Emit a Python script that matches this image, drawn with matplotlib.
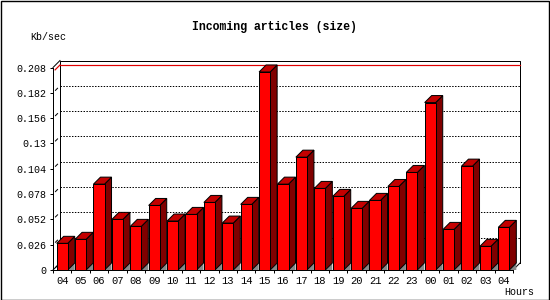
import numpy as np
import matplotlib
matplotlib.use("Agg")
import matplotlib.pyplot as plt
from matplotlib.patches import Polygon, Rectangle

hours = ["04", "05", "06", "07", "08", "09", "10", "11", "12", "13", "14", "15",
         "16", "17", "18", "19", "20", "21", "22", "23", "00", "01", "02", "03", "04"]
kbsec = [0.0274, 0.0315, 0.0882, 0.0520, 0.0448, 0.0663, 0.0503, 0.0571, 0.0694,
         0.0482, 0.0674, 0.2034, 0.0882, 0.1159, 0.0838, 0.0756, 0.0633, 0.0715,
         0.0858, 0.1002, 0.1720, 0.0417, 0.1067, 0.0243, 0.0438]
yticks = [0, 0.026, 0.052, 0.078, 0.104, 0.13, 0.156, 0.182, 0.208]
ytick_labels = ["0", "0.026", "0.052", "0.078", "0.104", "0.13", "0.156", "0.182", "0.208"]

FONT = "Liberation Mono"
LW = 0.72  # one pixel at 100 dpi

fig = plt.figure(figsize=(5.5, 3), dpi=100)
fig.patch.set_facecolor("white")
ax = fig.add_axes([53 / 550, 30 / 300, 460 / 550, 202.5 / 300])
ax.set_facecolor("none")

n = len(kbsec)
x = np.arange(n)
ymax = yticks[-1]
ax.set_xlim(-0.5, n - 0.5)
ax.set_ylim(0, ymax)

# depth of the fake 3d, 7 px right and 7 px up, in data units
depth = 7
dx = depth / (ax.bbox.width / n)
dy = depth / (ax.bbox.height / ymax)
x0, x1 = -0.5, n - 0.5

# back wall frame
ax.plot([x0 + dx, x0 + dx, x1 + dx, x1 + dx], [dy, ymax + dy, ymax + dy, dy],
        color="black", lw=LW, clip_on=False, zorder=1)
ax.plot([x0, x0 + dx], [ymax, ymax + dy], color="black", lw=LW, clip_on=False, zorder=1)
ax.plot([x1, x1 + dx], [0, dy], color="black", lw=LW, clip_on=False, zorder=1)
ax.plot([x0, x0 + dx], [0, dy], color="black", lw=LW, clip_on=False, zorder=1)

# dotted grid on back wall and little depth ticks
for v in yticks[1:-1]:
    ax.plot([x0 + dx, x1 + dx], [v + dy, v + dy], color="black", lw=LW,
            dashes=(1.44, 1.44), clip_on=False, zorder=1)
for v in yticks[:-1]:
    ax.plot([x0 + 0.35 * dx, x0 + 0.65 * dx], [v + 0.35 * dy, v + 0.65 * dy],
            color="black", lw=LW, clip_on=False, zorder=1)

# red max line
vmax = max(kbsec)
ax.plot([x0 + dx, x1 + dx], [vmax + dy, vmax + dy], color="#e00000", lw=LW * 1.2,
        clip_on=False, zorder=1)
ax.plot([x0 + 0.3 * dx, x0 + dx], [vmax + 0.3 * dy, vmax + dy], color="#e00000",
        lw=LW * 1.2, clip_on=False, zorder=1)

# bars
w = 0.6
for i, v in enumerate(kbsec):
    xl = x[i] - w / 2
    xr = x[i] + w / 2
    zo = 3 + i * 0.01
    floor = Polygon([(xr, 0), (xr + dx, dy), (xr + dx, 0)], closed=True,
                    facecolor="#888888", edgecolor="none", zorder=zo, clip_on=False)
    side = Polygon([(xr, 0), (xr + dx, dy), (xr + dx, v + dy), (xr, v)], closed=True,
                   facecolor="#800000", edgecolor="black", lw=LW, zorder=zo, clip_on=False)
    top = Polygon([(xl, v), (xr, v), (xr + dx, v + dy), (xl + dx, v + dy)], closed=True,
                  facecolor="#c40000", edgecolor="black", lw=LW, zorder=zo, clip_on=False)
    front = Rectangle((xl, 0), w, v, facecolor="#ff0000", edgecolor="black", lw=LW,
                      zorder=zo + 0.001, clip_on=False)
    for p in (floor, side, top, front):
        ax.add_patch(p)

# axes
for s in ("top", "right"):
    ax.spines[s].set_visible(False)
for s in ("left", "bottom"):
    ax.spines[s].set_linewidth(LW)
    ax.spines[s].set_zorder(5)

ax.set_yticks(yticks)
ax.set_yticklabels(ytick_labels, fontfamily=FONT, fontsize=7.2)
ax.tick_params(axis="y", length=2.5, width=LW, pad=2.2, direction="out")
ax.set_xticks(x)
ax.set_xticklabels(hours, fontfamily=FONT, fontsize=7.6)
ax.tick_params(axis="x", which="major", length=0, pad=4)
ax.set_xticks(np.arange(n + 1) - 0.5, minor=True)
ax.tick_params(axis="x", which="minor", length=2.5, width=LW, direction="out")

fig.text(274 / 550, 1 - 26.7 / 300, "Incoming articles (size)", ha="center", va="center",
         fontfamily=FONT, fontsize=8.3, fontweight="bold")
fig.text(30 / 550, 1 - 36.7 / 300, "Kb/sec", ha="left", va="center",
         fontfamily=FONT, fontsize=7.2)
fig.text(504 / 550, 1 - 291.7 / 300, "Hours", ha="left", va="center",
         fontfamily=FONT, fontsize=7.2)

# outer border
fig.patches.append(Rectangle((0.5 / 550, 0.5 / 300), 548 / 550, 298.5 / 300,
                             transform=fig.transFigure, fill=False,
                             edgecolor="black", lw=LW * 1.4))

fig.savefig("out.png", dpi=100)
